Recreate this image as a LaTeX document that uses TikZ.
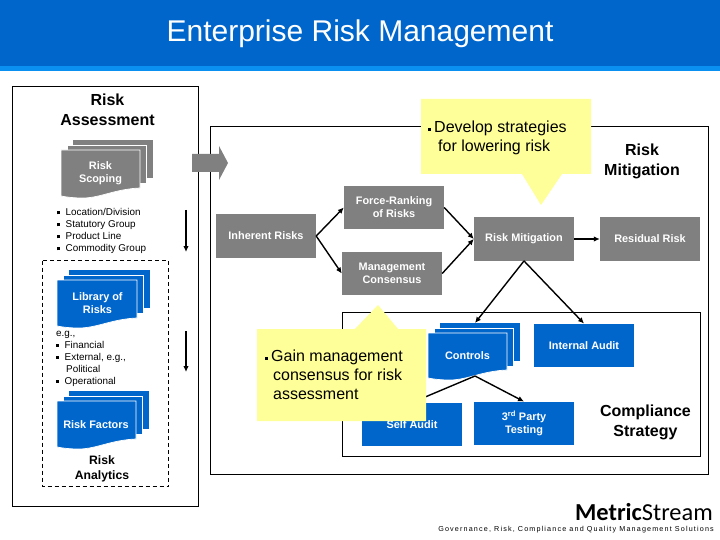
\documentclass[tikz,border=0pt]{standalone}
\usepackage{fontspec}
\setmainfont{Liberation Sans}
\newfontfamily\logofont{Carlito}
\newfontfamily\tagfont[LetterSpace=16]{Liberation Sans}
\usetikzlibrary{arrows.meta}
\definecolor{hdrblue}{HTML}{0066CC}
\definecolor{hdrlight}{HTML}{0A90F0}
\definecolor{docblue}{HTML}{0066CC}
\definecolor{boxgray}{HTML}{808080}
\definecolor{noteyellow}{HTML}{FFFF99}
\tikzset{
 x=1pt,y=-1pt,
 frame/.style={draw=black,line width=0.9pt,fill=white},
 graybox/.style={fill=boxgray,text=white,font=\fontsize{10.9}{13}\selectfont\bfseries,align=center,minimum width=100pt,minimum height=43.5pt,inner sep=0pt},
 bluebox/.style={graybox,fill=docblue},
 conn/.style={draw=black,line width=1.4pt,-{Latex[length=6pt,width=5.5pt]}},
 head/.style={font=\fontsize{16}{20}\selectfont\bfseries,align=center,text=black,inner sep=0pt},
 lst/.style={font=\fontsize{9.9}{12}\selectfont,align=left,anchor=north west,inner sep=0pt,text=black},
 doctext/.style={text=white,font=\fontsize{10.9}{13}\selectfont\bfseries,align=center,inner sep=0pt},
 note/.style={font=\fontsize{16}{19}\selectfont,align=left,anchor=north west,inner sep=0pt,text=black},
}
\newcommand{\docsheet}[5]{%
 \fill[\sheetcol,draw=white,line width=0.7pt] (#1,#2) -- (#3,#2) -- (#3,#4) .. controls ({#3-25},{#4+1}) and ({#3-40},{#5+1}) .. ({#1+22},{#5+1}) .. controls ({#1+12},{#5+1}) and ({#1+5},{#5}) .. (#1,{#5-1}) -- cycle;}
\newcommand{\stackdoc}[5]{%
 \def\sheetcol{#3}%
 \fill[#3] ({#1+12},{#2-10}) rectangle ({#4+13},{#2+28});
 \fill[#3,draw=white,line width=0.7pt] ({#1+6},{#2-5}) rectangle ({#4+6.5},{#2+33});
 \docsheet{#1}{#2}{#4}{#5}{#5+9}}
\newcommand{\bul}{\raisebox{1.6pt}{\rule{3pt}{3pt}}}
\begin{document}
\begin{tikzpicture}
\useasboundingbox (0,0) rectangle (720,540);
\fill[white] (0,0) rectangle (720,540);
% header
\fill[hdrblue] (0,0) rectangle (720,66);
\fill[hdrlight] (0,66) rectangle (720,71);
\node[text=white,font=\fontsize{30}{36}\selectfont,inner sep=0pt] (title) at (360,33.5) {Enterprise Risk Management};
% frames
\draw[frame] (12.5,86.5) rectangle (198.5,506.5);
\draw[frame] (210.5,126.5) rectangle (708.5,474.5);
\draw[frame] (342.5,312.5) rectangle (700.5,456.5);
\draw[black,line width=0.9pt,dash pattern=on 4pt off 3pt] (42.5,260.5) rectangle (168.5,486.5);
% left headings
\node[head] (ra) at (107.5,109.5) {Risk\\Assessment};
\node[head,font=\fontsize{12.2}{15}\selectfont\bfseries] (ran) at (102,468.5) {Risk\\Analytics};
% stacks
\stackdoc{61}{150}{boxgray}{140}{188}
\node[doctext,text=white] (scoping) at (100.5,173) {Risk\\Scoping};
\node[lst] (l1) at (57,208.5) {\bul\hspace{5.5pt}Location/Division\\\bul\hspace{5.5pt}Statutory Group\\\bul\hspace{5.5pt}Product Line\\\bul\hspace{5.5pt}Commodity Group};
\stackdoc{57}{280}{docblue}{137}{318}
\node[doctext] (library) at (97.5,303.5) {Library of\\Risks};
\node[lst] (l2) at (56,331) {e.g.,\\\bul\hspace{5.5pt}Financial\\\bul\hspace{5.5pt}External, e.g.,\\\hspace{10pt}Political\\\bul\hspace{5.5pt}Operational};
\stackdoc{57}{401}{docblue}{136}{439}
\node[doctext] (factors) at (96,425) {Risk Factors};
% down arrows
\coordinate (a1) at (186,210); \coordinate (a2) at (186,252);
\coordinate (b1) at (186,331); \coordinate (b2) at (186,372);
\draw[conn] (a1) -- (a2);
\draw[conn] (b1) -- (b2);
% big arrow
\fill[boxgray] (192,154) -- (219,154) -- (219,146) -- (228,163) -- (219,180) -- (219,172) -- (192,172) -- cycle;
% gray boxes
\node[graybox] (inh) at (266,236) {Inherent Risks};
\node[graybox] (force) at (394,207.5) {Force-Ranking\\of Risks};
\node[graybox] (mgmt) at (392,273.5) {Management\\Consensus};
\node[graybox] (mit) at (524,239) {Risk Mitigation};
\node[graybox] (res) at (650,239) {Residual Risk};
% blue boxes
\stackdoc{428}{333}{docblue}{507}{370}
\node[doctext] (controls) at (467.5,356) {Controls};
\node[bluebox] (internal) at (584,345.5) {Internal Audit};
\node[bluebox] (third) at (524,423.5) {3\textsuperscript{rd} Party\\Testing};
\node[bluebox] (self) at (412,424.5) {Self Audit};
% connectors
\coordinate (cb) at (475,376);
\coordinate (ct) at (475,323);
\draw[conn] (inh.east) -- (force.west);
\draw[conn] (inh.east) -- (mgmt.west);
\draw[conn] (force.east) -- (mit.west);
\draw[conn] (mgmt.east) -- (mit.west);
\draw[conn] (mit.east) -- (res.west);
\draw[conn] (mit.south) -- (ct);
\draw[conn] (mit.south) -- (internal.north);
\draw[conn] (cb) -- (third.north);
\draw[conn] (cb) -- (self.north);
% text right
\node[head] (rm) at (642,161) {Risk\\Mitigation};
\node[head] (cs) at (645.5,422) {Compliance\\Strategy};
% callouts
\fill[noteyellow] (421,99) -- (591,99) -- (591,174) -- (562,174) -- (541,205) -- (522,174) -- (421,174) -- cycle;
\node[note] (n1) at (428,120.5) {\bul\hspace{3pt}Develop strategies\\\hspace{10pt}for lowering risk};
\fill[noteyellow] (257,329) -- (355,329) -- (378,305) -- (398,329) -- (426,329) -- (426,421) -- (257,421) -- cycle;
\node[note] (n2) at (265,349.5) {\bul\hspace{3pt}Gain management\\\hspace{8pt}consensus for risk\\\hspace{8pt}assessment};
% logo
\node[font=\logofont\fontsize{24.4}{28}\selectfont,anchor=base east,inner sep=0pt] (logo) at (713,520) {\textbf{Metric}Stream};
\node[font=\tagfont\fontsize{7.2}{9}\selectfont,anchor=base east,inner sep=0pt] (tag) at (714,531) {Governance, Risk, Compliance and Quality Management Solutions};
\end{tikzpicture}
\end{document}
